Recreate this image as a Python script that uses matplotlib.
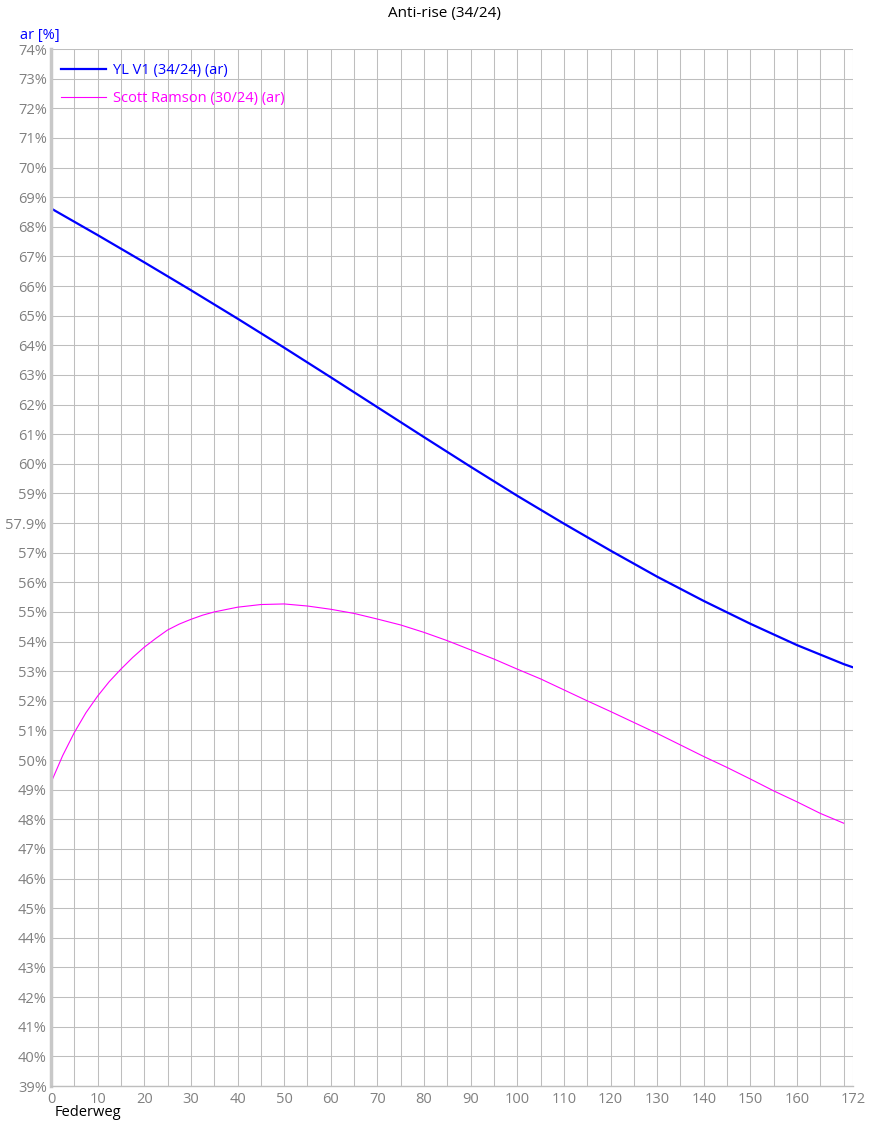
import numpy as np
import matplotlib.pyplot as plt
from matplotlib.ticker import FixedLocator

plt.rcParams['font.family'] = ['Open Sans', 'DejaVu Sans']

# YL V1 (34/24)
yl_x = [0, 10, 20, 30, 40, 50, 60, 70, 80, 90, 100, 110, 120, 130, 140, 150, 160, 170, 172]
yl_ar = [68.62, 67.72, 66.80, 65.86, 64.90, 63.92, 62.92, 61.91, 60.90, 59.90, 58.92,
         57.98, 57.07, 56.19, 55.37, 54.60, 53.88, 53.24, 53.13]

# Scott Ramson (30/24)
sr_x = [0, 2.5, 5, 7.5, 10, 12.5, 15, 17.5, 20, 22.5, 25, 27.5, 30, 32.5, 35, 40, 45, 50,
        55, 60, 65, 70, 75, 80, 85, 90, 95, 100, 105, 110, 115, 120, 125, 130, 135, 140,
        145, 150, 155, 160, 165, 170]
sr_ar = [49.24, 50.15, 50.93, 51.60, 52.16, 52.65, 53.07, 53.46, 53.81, 54.11, 54.39,
         54.59, 54.75, 54.89, 55.00, 55.16, 55.25, 55.27, 55.20, 55.09, 54.95, 54.76,
         54.56, 54.31, 54.03, 53.72, 53.41, 53.07, 52.74, 52.37, 52.00, 51.64, 51.27,
         50.90, 50.51, 50.12, 49.75, 49.36, 48.96, 48.59, 48.20, 47.87]

x_ticks = [0, 10, 20, 30, 40, 50, 60, 70, 80, 90, 100, 110, 120, 130, 140, 150, 160, 172]
y_ticks = list(range(39, 75))
y_labels = ["57.9%" if v == 58 else f"{v}%" for v in y_ticks]

fig = plt.figure(figsize=(8.84, 11.23), dpi=100)
ax = fig.add_axes([51/884, 1 - 1086/1123, 802/884, 1037/1123])

ax.plot(yl_x, yl_ar, color='#0000ff', lw=1.6, label='YL V1 (34/24) (ar)',
        solid_joinstyle='round')
ax.plot(sr_x, sr_ar, color='#ff00ff', lw=0.8, label='Scott Ramson (30/24) (ar)',
        solid_joinstyle='round')

ax.set_xlim(0, 172)
ax.set_ylim(39, 74)
ax.set_xticks(x_ticks)
ax.set_xticklabels([str(v) for v in x_ticks])
# grid lines between the labelled ticks, plus 170
ax.xaxis.set_minor_locator(FixedLocator(list(range(5, 170, 10)) + [170]))
ax.set_yticks(y_ticks)
ax.set_yticklabels(y_labels)

ax.grid(True, which='both', color='#bebebe', lw=0.75)
ax.set_axisbelow(True)
ax.tick_params(which='both', length=0, colors='#808080', labelsize=10.5)
ax.tick_params(axis='x', pad=4)
ax.tick_params(axis='y', pad=3)

for s in ['top', 'right']:
    ax.spines[s].set_visible(False)
ax.spines['left'].set_color('#c8c8c8')
ax.spines['left'].set_linewidth(2.5)
ax.spines['bottom'].set_color('#bebebe')
ax.spines['bottom'].set_linewidth(1.0)

leg = ax.legend(loc='upper left', frameon=False, fontsize=10.5, handlelength=3.1,
                handletextpad=0.45, labelspacing=0.85, borderaxespad=0.3,
                bbox_to_anchor=(0.0, 0.996))
for txt, line in zip(leg.get_texts(), leg.get_lines()):
    txt.set_color(line.get_color())

fig.text(444/884, 1 - 13/1123, 'Anti-rise (34/24)', ha='center', va='center',
         fontsize=11, color='black')
fig.text(20/884, 1 - 36/1123, 'ar [%]', ha='left', va='center', fontsize=10.5,
         color='#0000ff')
fig.text(55/884, 1 - 1113/1123, 'Federweg', ha='left', va='center', fontsize=10.5,
         color='black')

fig.savefig('out.png', dpi=100)
